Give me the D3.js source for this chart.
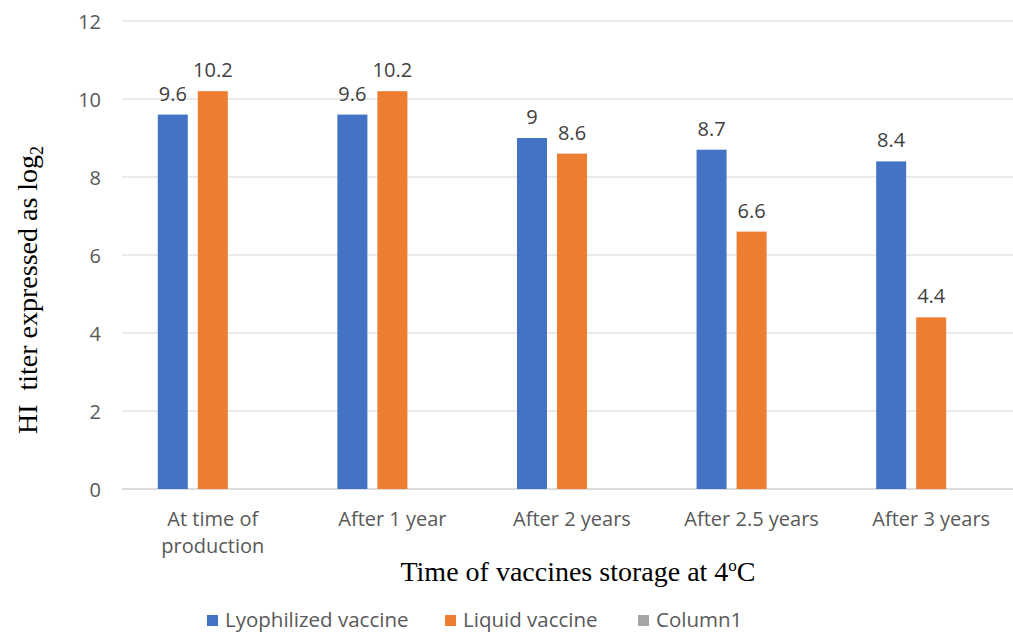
<!DOCTYPE html>
<html><head><meta charset="utf-8">
<script src="https://cdn.jsdelivr.net/npm/d3@7"></script>
<style>body{margin:0;background:#fff}svg{display:block}</style>
</head><body>
<svg id="c" width="1013" height="632"></svg>
<script>
const categories = [["At time of","production"],["After 1 year"],["After 2 years"],["After 2.5 years"],["After 3 years"]];
const seriesNames = ["Lyophilized vaccine","Liquid vaccine","Column1"];
const lyophilized = [9.6, 9.6, 9, 8.7, 8.4];
const liquid = [10.2, 10.2, 8.6, 6.6, 4.4];
const column1 = [null, null, null, null, null];
const yTicks = [0, 2, 4, 6, 8, 10, 12];
const colors = ["#4472C4", "#ED7D31", "#A5A5A5"];

const svg = d3.select("#c");
const catKeys = categories.map(c => c.join(" "));
const x0 = d3.scaleBand().domain(catKeys).range([123, 1021]).paddingInner(0).paddingOuter(0);
const x1 = d3.scaleBand().domain(seriesNames).range([0, x0.bandwidth()]).paddingInner(0.25).paddingOuter(0.869);
const y = d3.scaleLinear().domain([0, 12]).range([489, 21]);
const sans = "'Open Sans', sans-serif";
const serif = "'Liberation Serif', 'Times New Roman', serif";

// gridlines
svg.append("g").selectAll("line").data(yTicks).join("line")
  .attr("x1", 122).attr("x2", 1013)
  .attr("y1", d => y(d)).attr("y2", d => y(d))
  .attr("stroke", d => d === 0 ? "#D0D0D0" : "#E3E3E3").attr("stroke-width", 1.5);

// y axis labels
const yAxis = d3.axisLeft(y).tickValues(yTicks).tickSize(0).tickPadding(0);
const ga = svg.append("g").attr("transform", "translate(101,0)").call(yAxis);
ga.select(".domain").remove();
ga.selectAll("text").attr("font-family", sans).attr("font-size", 20)
  .attr("fill", "#595959").attr("dy", "0.36em");

const all = [lyophilized, liquid, column1];
seriesNames.forEach((s, si) => {
  const vals = all[si];
  const g = svg.append("g");
  const data = catKeys.map((k, i) => ({k, v: vals[i]})).filter(d => d.v != null);
  g.selectAll("rect").data(data).join("rect")
    .attr("x", d => x0(d.k) + x1(s)).attr("width", x1.bandwidth())
    .attr("y", d => y(d.v)).attr("height", d => y(0) - y(d.v))
    .attr("fill", colors[si]);
  g.selectAll("text").data(data).join("text")
    .attr("x", d => x0(d.k) + x1(s) + x1.bandwidth() / 2)
    .attr("y", d => y(d.v) - 14)
    .attr("text-anchor", "middle")
    .attr("font-family", sans).attr("font-size", 20)
    .attr("fill", "#404040").text(d => d.v);
});

// category labels
const cg = svg.append("g");
categories.forEach((c, i) => {
  const cx = x0(catKeys[i]) + x0.bandwidth() / 2;
  const t = cg.append("text").attr("x", cx).attr("y", 526)
    .attr("text-anchor", "middle").attr("font-family", sans)
    .attr("font-size", 20).attr("fill", "#595959");
  c.forEach((line, li) => t.append("tspan").attr("x", cx)
    .attr("dy", li === 0 ? 0 : 27).text(line));
});

// axis titles
const xt = svg.append("text").attr("x", 578).attr("y", 581).attr("text-anchor", "middle")
  .attr("font-family", serif).attr("font-size", 28).attr("fill", "#000");
xt.append("tspan").text("Time of vaccines storage at 4");
xt.append("tspan").attr("font-size", 17).attr("dy", -10).text("o");
xt.append("tspan").attr("dy", 10).text("C");

const yt = svg.append("text").attr("transform", "translate(37,290) rotate(-90)").attr("text-anchor", "middle")
  .attr("font-family", serif).attr("font-size", 28).attr("fill", "#000").attr("xml:space", "preserve");
yt.append("tspan").text("HI\u00A0 titer expressed as log");
yt.append("tspan").attr("font-size", 18).attr("dy", 6).text("2");

// legend
const legendX = [207, 445, 638];
const lg = svg.append("g");
seriesNames.forEach((s, i) => {
  lg.append("rect").attr("x", legendX[i]).attr("y", 615).attr("width", 11).attr("height", 11).attr("fill", colors[i]);
  lg.append("text").attr("x", legendX[i] + 18).attr("y", 627)
    .attr("font-family", sans).attr("font-size", 20.5).attr("fill", "#595959").text(s);
});
</script>
</body></html>
